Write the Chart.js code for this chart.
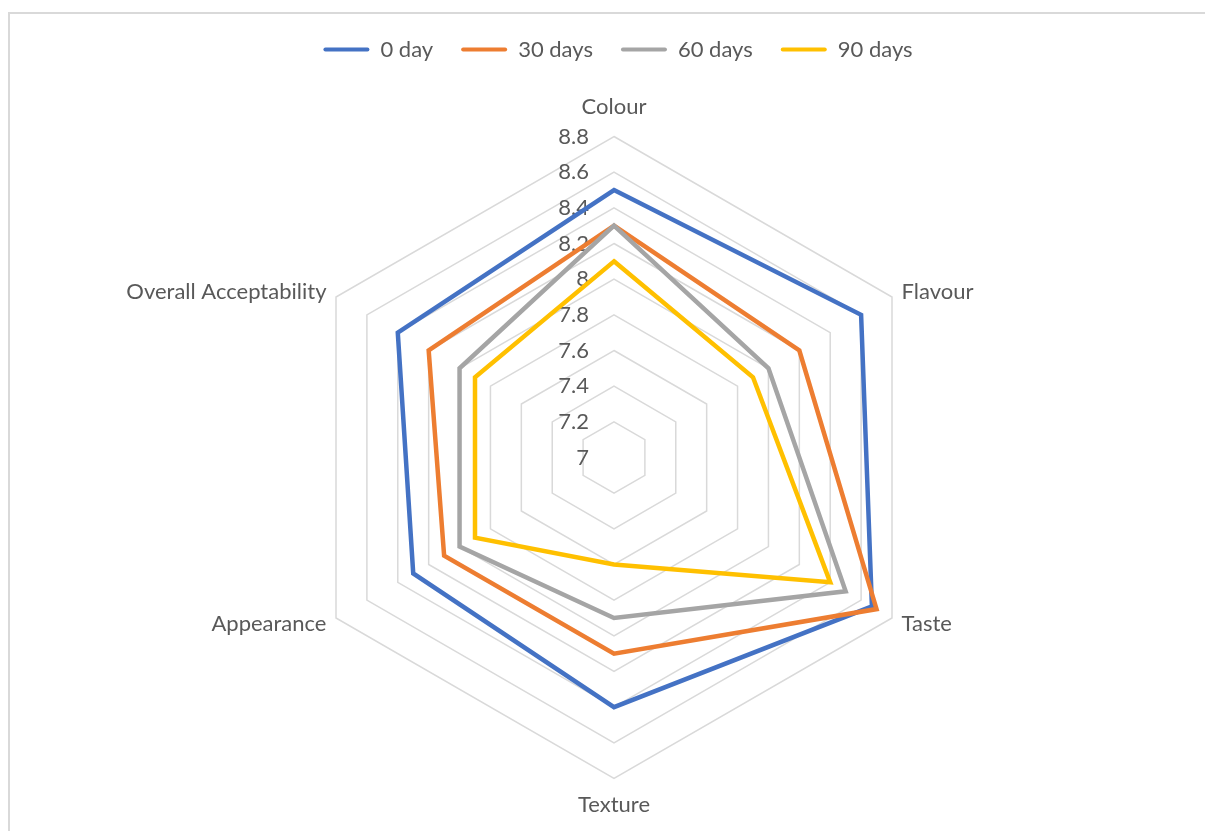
<!DOCTYPE html>
<html>
<head>
<meta charset="utf-8">
<script src="https://cdn.jsdelivr.net/npm/chart.js@4.4.1/dist/chart.umd.min.js"></script>
<style>
  html, body { margin: 0; padding: 0; background: #ffffff; overflow: hidden; }
  #wrap { position: relative; width: 1205px; height: 831px; }
  #frame { position: absolute; left: 8px; top: 12px; width: 1300px; height: 900px;
           border-left: 2px solid #d9d9d9; border-top: 2px solid #d9d9d9; box-sizing: border-box; }
  canvas { position: absolute; left: 0; top: 0; }
</style>
</head>
<body>
<div id="wrap">
  <div id="frame"></div>
  <canvas id="c" width="1205" height="831"></canvas>
</div>
<script>
// ---- data ----
const categories = ['Colour', 'Flavour', 'Taste', 'Texture', 'Appearance', 'Overall Acceptability'];
const seriesNames = ['0 day', '30 days', '60 days', '90 days'];
const day0  = [8.5, 8.6, 8.67, 8.4, 8.3, 8.4];
const day30 = [8.3, 8.2, 8.7, 8.1, 8.1, 8.2];
const day60 = [8.3, 8.0, 8.5, 7.9, 8.0, 8.0];
const day90 = [8.1, 7.9, 8.4, 7.6, 7.9, 7.9];
const axisMin = 7, axisMax = 8.8, axisStep = 0.2;

// ---- styles ----
const colors = ['#4472C4', '#ED7D31', '#A5A5A5', '#FFC000'];
const FONT = 'Lato, "Open Sans", sans-serif';
const TEXT = '#595959';
const FS = 22;

const seriesValues = [day0, day30, day60, day90];
const datasets = seriesValues.map((vals, i) => ({
  label: seriesNames[i],
  data: vals,
  borderColor: colors[i],
  backgroundColor: colors[i],
  borderWidth: 4.5,
  fill: false,
  pointRadius: 0,
  pointHoverRadius: 0,
  tension: 0,
  order: seriesValues.length - i
}));

const labelsPlugin = {
  id: 'excelLabels',
  beforeDatasetsDraw(chart) {
    const s = chart.scales.r;
    const ctx = chart.ctx;
    ctx.save();
    ctx.fillStyle = TEXT;
    ctx.font = FS + 'px ' + FONT;
    // tick labels, right-aligned left of the first axis
    ctx.textAlign = 'right';
    ctx.textBaseline = 'middle';
    s.ticks.forEach(t => {
      const d = s.getDistanceFromCenterForValue(t.value);
      const txt = String(Number(t.value.toFixed(1)));
      ctx.fillText(txt, s.xCenter - 25, s.yCenter - d);
    });
    // point labels
    const R = s.drawingArea;
    categories.forEach((lab, i) => {
      const p = s.getPointPosition(i, R + 11);
      const dx = p.x - s.xCenter;
      let y = p.y;
      if (Math.abs(dx) < 1) {
        ctx.textAlign = 'center';
        y += (p.y < s.yCenter) ? -19 : 15;
      } else {
        ctx.textAlign = dx > 0 ? 'left' : 'right';
      }
      ctx.textBaseline = 'middle';
      ctx.fillText(lab, p.x, y);
    });
    ctx.restore();
  }
};

new Chart(document.getElementById('c'), {
  type: 'radar',
  data: { labels: categories, datasets },
  options: {
    responsive: false,
    animation: false,
    events: [],
    layout: { padding: { top: 10.5, left: 31 } },
    plugins: {
      tooltip: { enabled: false },
      legend: {
        position: 'top',
        align: 'center',
        labels: {
          boxWidth: 46,
          boxHeight: 4,
          padding: 28,
          color: TEXT,
          font: { family: FONT, size: FS },
          generateLabels: (chart) => chart.data.datasets.map((ds, i) => ({
            text: ds.label,
            fillStyle: ds.borderColor,
            strokeStyle: ds.borderColor,
            lineWidth: 0,
            borderRadius: 2,
            fontColor: TEXT,
            hidden: !chart.isDatasetVisible(i),
            datasetIndex: i
          }))
        }
      }
    },
    scales: {
      r: {
        min: axisMin,
        max: axisMax,
        ticks: { stepSize: axisStep, display: false },
        grid: { color: '#d9d9d9', lineWidth: 1.5, circular: false },
        angleLines: { display: false },
        pointLabels: { display: false },
        afterFit: (scale) => {
          scale.xCenter = 614;
          scale.yCenter = 457.5;
          scale.drawingArea = 321;
        }
      }
    }
  },
  plugins: [labelsPlugin]
});
</script>
</body>
</html>
